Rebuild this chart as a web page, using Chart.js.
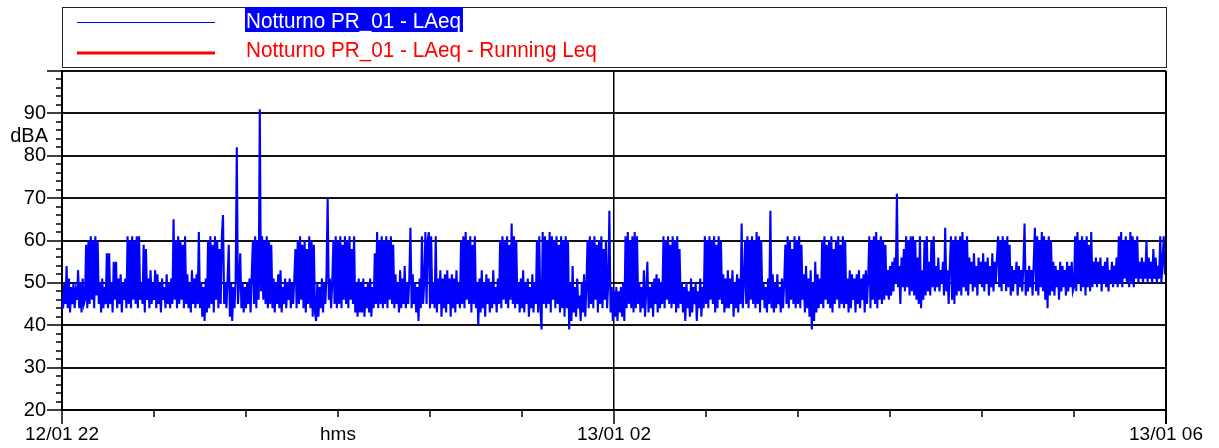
<!DOCTYPE html>
<html>
<head>
<meta charset="utf-8">
<script src="https://cdn.jsdelivr.net/npm/chart.js@4/dist/chart.umd.min.js"></script>
<style>
  html, body { margin: 0; padding: 0; background: #fff; }
  #wrap { width: 1219px; height: 448px; }
</style>
</head>
<body>
<div id="wrap"><canvas id="chart" width="1219" height="448"></canvas></div>
<script>
// one sample every half minute, 22:00 -> 06:00
const STEP_MIN = 0.5;

// LAeq values (dBA), 20 samples = 10 minutes per row
const laeq = [
  47,44,50,45,54,44,51,43,49,45,50,44,48,46,53,44,50,43,51,45,
  46,59,44,60,45,61,46,60,44,61,47,60,45,50,43,51,44,49,45,57,
  44,57,45,50,43,55,46,55,44,51,45,52,43,50,46,51,44,61,45,60,
  44,61,46,60,45,61,44,61,46,50,45,59,43,58,46,51,44,53,45,50,
  46,53,44,52,45,50,43,51,46,49,44,52,45,50,44,51,45,65,46,60,
  44,61,45,60,46,59,44,61,45,52,44,50,43,53,45,51,44,52,45,62,
  44,50,42,49,41,51,43,60,44,61,45,59,43,61,46,60,44,58,45,61,
  66,45,50,44,51,59,42,50,41,49,44,51,82,45,50,57,44,50,43,49,
  44,50,45,51,43,52,60,45,61,44,60,46,91,48,61,46,60,45,61,44,
  60,45,59,44,51,43,50,45,52,44,53,43,49,45,51,44,50,46,51,44,
  50,45,51,58,44,60,45,61,46,59,44,60,43,58,45,61,44,60,42,59,
  43,41,50,42,49,44,51,43,50,45,52,70,46,51,44,50,60,45,61,44,
  60,45,61,44,59,46,61,45,60,44,61,46,58,45,61,43,50,42,51,43,
  50,43,51,42,49,44,50,43,51,42,49,44,57,45,62,44,60,45,61,44,
  60,45,61,44,60,46,61,45,59,44,52,45,50,43,53,44,51,45,54,44,
  50,45,51,63,44,52,45,50,43,49,41,51,44,61,45,50,62,45,60,62,
  44,61,45,50,44,61,43,51,45,53,42,51,44,52,43,53,45,51,42,52,
  44,51,43,53,45,50,44,60,45,61,44,62,46,60,45,61,43,59,45,61,
  44,50,40,51,43,53,44,50,42,52,45,51,43,50,44,53,45,49,43,51,
  45,60,44,61,46,60,45,61,44,59,46,64,45,61,44,60,45,50,43,51,
  44,53,43,50,45,51,42,49,44,52,43,50,45,60,43,61,44,39,62,45,
  61,44,60,45,62,43,61,46,60,44,61,45,59,43,61,44,60,42,61,44,
  60,39,50,41,54,43,49,42,51,44,47,41,50,43,52,42,49,60,44,61,
  45,60,44,61,46,59,43,60,45,61,44,58,46,60,44,50,67,43,49,41,
  48,42,49,41,48,43,49,42,50,41,61,44,62,45,60,44,61,43,62,44,
  61,45,50,43,49,44,53,42,48,55,43,49,44,50,42,51,45,52,43,51,
  44,50,45,61,44,60,46,61,45,59,44,61,45,60,43,61,44,58,45,50,
  43,49,41,50,44,48,42,51,43,49,45,50,41,48,44,51,42,49,44,61,
  45,60,44,61,46,60,45,61,43,59,44,61,46,60,45,52,43,51,44,53,
  44,51,45,53,42,50,44,52,43,51,45,64,44,50,60,45,61,44,60,46,
  61,45,60,44,62,45,61,43,60,46,50,44,49,43,51,45,67,44,52,43,
  50,44,52,45,49,43,51,44,50,59,45,61,44,60,46,58,45,61,44,60,
  45,61,44,59,46,52,43,54,44,51,42,53,39,50,41,55,43,52,44,51,
  45,60,44,61,46,59,45,60,44,61,43,58,45,60,46,61,44,59,45,61,
  44,60,45,51,43,53,44,52,46,51,43,52,45,53,44,51,46,52,43,53,
  45,51,61,44,60,46,61,45,62,44,60,46,61,45,60,46,59,47,53,46,
  54,47,55,48,56,50,71,49,54,45,56,49,58,48,61,49,60,47,61,48,
  61,47,60,46,56,45,61,44,53,46,60,47,61,48,55,47,60,49,61,48,
  54,49,56,48,53,50,55,47,63,48,53,45,54,61,46,60,45,61,47,60,
  48,61,47,62,49,60,48,61,47,56,50,55,48,57,49,54,47,56,50,55,
  49,57,48,55,50,56,47,54,49,57,48,55,50,56,61,49,60,48,61,50,
  60,48,61,49,59,47,54,48,53,50,55,47,54,49,53,48,54,64,47,53,
  48,54,49,53,47,55,63,48,61,47,60,49,62,48,61,46,60,44,61,47,
  60,48,55,47,54,49,53,46,55,48,54,49,53,47,55,48,54,49,55,48,
  49,61,48,62,50,60,48,61,49,60,47,61,49,59,48,62,49,55,50,56,
  49,55,50,56,48,54,50,55,49,56,48,53,50,55,49,54,50,56,49,61,
  50,62,49,60,51,61,50,60,49,62,50,61,49,60,51,61,50,55,51,56,
  50,55,51,60,50,56,51,55,50,58,51,56,50,54,51,61,50,55,61,52,
  54
];

// running Leq is listed in the legend but not drawn in the plot
const runningLeq = [];

const seriesNames = ['Notturno PR_01 - LAeq', 'Notturno PR_01 - LAeq - Running Leq'];
const seriesColors = ['#0000ff', '#ff0000'];

// minutes from 22:00
const xTickLabels = { 0: '12/01 22', 120: 'hms', 240: '13/01 02', 480: '13/01 06' };
const yTitle = 'dBA';

const FONT = '"Liberation Sans", Arial, sans-serif';

const points = laeq.map((v, i) => ({ x: i * STEP_MIN, y: v }));

// legend box, tick marks, unit label, right frame
const decor = {
  id: 'decor',
  afterDraw(chart) {
    const { ctx, chartArea: a, scales: { x, y } } = chart;
    ctx.save();
    ctx.strokeStyle = '#000';

    ctx.lineWidth = 2;
    ctx.beginPath();
    ctx.moveTo(a.right, a.top);
    ctx.lineTo(a.right, a.bottom + 14);
    ctx.stroke();

    ctx.lineWidth = 1.5;
    for (let v = 20; v <= 100; v += 2) {
      const py = Math.round(y.getPixelForValue(v));
      const len = v % 10 === 0 ? 15 : 6;
      ctx.beginPath();
      ctx.moveTo(a.left - len, py);
      ctx.lineTo(a.left, py);
      ctx.stroke();
    }
    for (let m = 0; m <= 480; m += 40) {
      const px = Math.round(x.getPixelForValue(m));
      const len = m % 240 === 0 ? 14 : 7;
      ctx.beginPath();
      ctx.moveTo(px, a.bottom);
      ctx.lineTo(px, a.bottom + len);
      ctx.stroke();
    }

    ctx.fillStyle = '#000';
    ctx.font = '20px ' + FONT;
    ctx.textAlign = 'right';
    ctx.textBaseline = 'middle';
    ctx.fillText(yTitle, 48, 136);

    // legend
    ctx.lineWidth = 1;
    ctx.strokeStyle = '#222';
    ctx.strokeRect(62.5, 7.5, a.right - 62, 60);

    ctx.strokeStyle = seriesColors[0];
    ctx.lineWidth = 1;
    ctx.beginPath(); ctx.moveTo(77, 22.5); ctx.lineTo(215, 22.5); ctx.stroke();
    ctx.strokeStyle = seriesColors[1];
    ctx.lineWidth = 3;
    ctx.beginPath(); ctx.moveTo(77, 53); ctx.lineTo(215, 53); ctx.stroke();

    ctx.font = '22px ' + FONT;
    ctx.textAlign = 'left';
    ctx.textBaseline = 'alphabetic';
    const sx = 0.94;
    const w0 = ctx.measureText(seriesNames[0]).width * sx;
    ctx.fillStyle = seriesColors[0];
    ctx.fillRect(245, 7, w0 + 3, 25);

    ctx.save();
    ctx.translate(246, 28);
    ctx.scale(sx, 1);
    ctx.fillStyle = '#fff';
    ctx.fillText(seriesNames[0], 0, 0);
    ctx.restore();

    ctx.save();
    ctx.translate(246, 57);
    ctx.scale(sx, 1);
    ctx.fillStyle = seriesColors[1];
    ctx.fillText(seriesNames[1], 0, 0);
    ctx.restore();

    ctx.restore();
  }
};

new Chart(document.getElementById('chart'), {
  type: 'line',
  data: {
    datasets: [
      {
        label: seriesNames[0],
        data: points,
        borderColor: seriesColors[0],
        borderWidth: 2.1,
        pointRadius: 0,
        tension: 0
      },
      {
        label: seriesNames[1],
        data: runningLeq,
        borderColor: seriesColors[1],
        borderWidth: 3,
        pointRadius: 0
      }
    ]
  },
  options: {
    responsive: false,
    animation: false,
    events: [],
    layout: { padding: { left: 0, top: 71, right: 53, bottom: 0 } },
    plugins: { legend: { display: false }, tooltip: { enabled: false } },
    scales: {
      x: {
        type: 'linear',
        min: 0,
        max: 480,
        afterFit: s => { s.height = 38; },
        border: { display: true, color: '#000', width: 2 },
        grid: {
          drawTicks: false,
          lineWidth: 1.5,
          color: c => (c.tick && c.tick.value === 240 ? '#000' : 'rgba(0,0,0,0)')
        },
        ticks: {
          stepSize: 40,
          autoSkip: false,
          maxRotation: 0,
          padding: 13,
          color: '#000',
          font: { family: FONT, size: 19 },
          callback: v => xTickLabels[v] || ''
        }
      },
      y: {
        min: 20,
        max: 100,
        afterFit: s => { s.width = 62; },
        border: { display: true, color: '#000', width: 2 },
        grid: { drawTicks: false, lineWidth: 2, color: '#111' },
        ticks: {
          stepSize: 10,
          padding: 16,
          color: '#000',
          font: { family: FONT, size: 20 },
          callback: v => (v === 100 ? '' : v)
        }
      }
    }
  },
  plugins: [decor]
});
</script>
</body>
</html>
